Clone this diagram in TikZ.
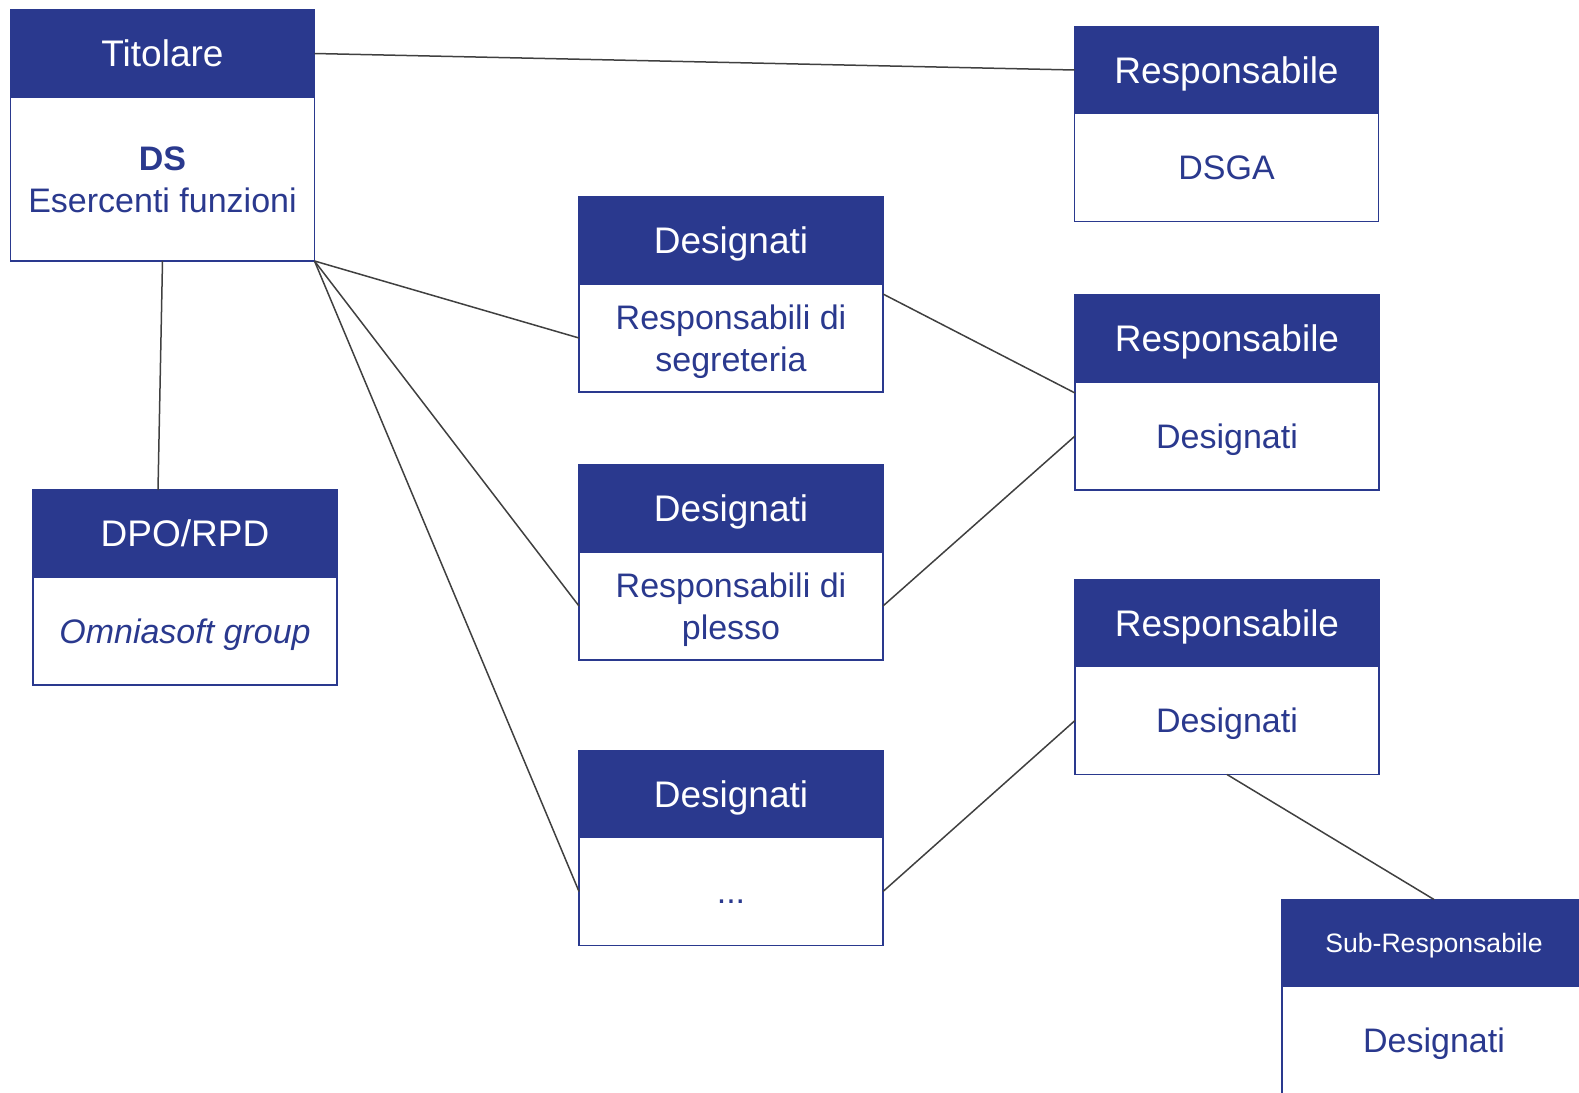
\documentclass[tikz,border=0pt]{standalone}
\usepackage{fontspec}
\setmainfont{Liberation Sans}
\usetikzlibrary{positioning}
\definecolor{dsblue}{RGB}{42,57,142}
\definecolor{wirecol}{RGB}{64,64,64}

\begin{document}
\begin{tikzpicture}[x=0.5pt,y=-0.5pt,
  hdr/.style={draw=dsblue,line width=0.8pt,fill=dsblue,text=white,minimum width=152pt,minimum height=43.5pt,inner sep=0pt,outer sep=0pt,text height=15pt,text depth=1.7pt,font=\fontsize{18.5}{22}\selectfont},
  bdy/.style={draw=dsblue,line width=0.8pt,fill=white,text=dsblue,minimum width=152pt,minimum height=54pt,inner sep=2pt,outer sep=0pt,align=center,text height=13.75pt,text depth=1.55pt,font=\fontsize{17}{21}\selectfont},
  twoline/.style={text height=34.75pt},
  wire/.style={draw=wirecol,line width=0.75pt}]
\clip (0,0) rectangle (1579,1092);
% left column
\node[hdr] (tit) at (162.5,53.5) {Titolare};
\node[bdy,twoline,minimum height=82pt,below=0pt of tit] (titb) {\textbf{DS}\\Esercenti funzioni};
\node[hdr] (dpo) at (185,533.5) {DPO/RPD};
\node[bdy,below=0pt of dpo] (dpob) {\textit{Omniasoft group}};
% middle column
\node[hdr] (seg) at (731,240.5) {Designati};
\node[bdy,twoline,below=0pt of seg] (segb) {Responsabili di\\segreteria};
\node[hdr] (pl) at (731,508.5) {Designati};
\node[bdy,twoline,below=0pt of pl] (plb) {Responsabili di\\plesso};
\node[hdr] (dot) at (731,794) {Designati};
\node[bdy,below=0pt of dot] (dotb) {...};
% right column
\node[hdr] (dsga) at (1226.5,70) {Responsabile};
\node[bdy,below=0pt of dsga] (dsgab) {DSGA};
\node[hdr] (r1) at (1227,338.5) {Responsabile};
\node[bdy,below=0pt of r1] (r1b) {Designati};
\node[hdr] (r2) at (1227,623) {Responsabile};
\node[bdy,below=0pt of r2] (r2b) {Designati};
\node[hdr,font=\fontsize{13.3}{16}\selectfont,text height=10.8pt,text depth=1.2pt] (sub) at (1434,943) {Sub-Responsabile};
\node[bdy,below=0pt of sub] (subb) {Designati};
% connectors
\coordinate (dpoin) at (158,490);
\draw[wire] (tit.east) -- (dsga.west);
\draw[wire] (titb.south) -- (dpoin);
\draw[wire] (titb.south east) -- (segb.west);
\draw[wire] (titb.south east) -- (plb.west);
\draw[wire] (titb.south east) -- (dotb.west);
\draw[wire] ([yshift=-5pt]segb.north east) -- ([yshift=-5.5pt]r1b.north west);
\draw[wire] (plb.east) -- (r1b.west);
\draw[wire] (dotb.east) -- (r2b.west);
\draw[wire] (r2b.south) -- (sub.north);
\end{tikzpicture}
\end{document}
